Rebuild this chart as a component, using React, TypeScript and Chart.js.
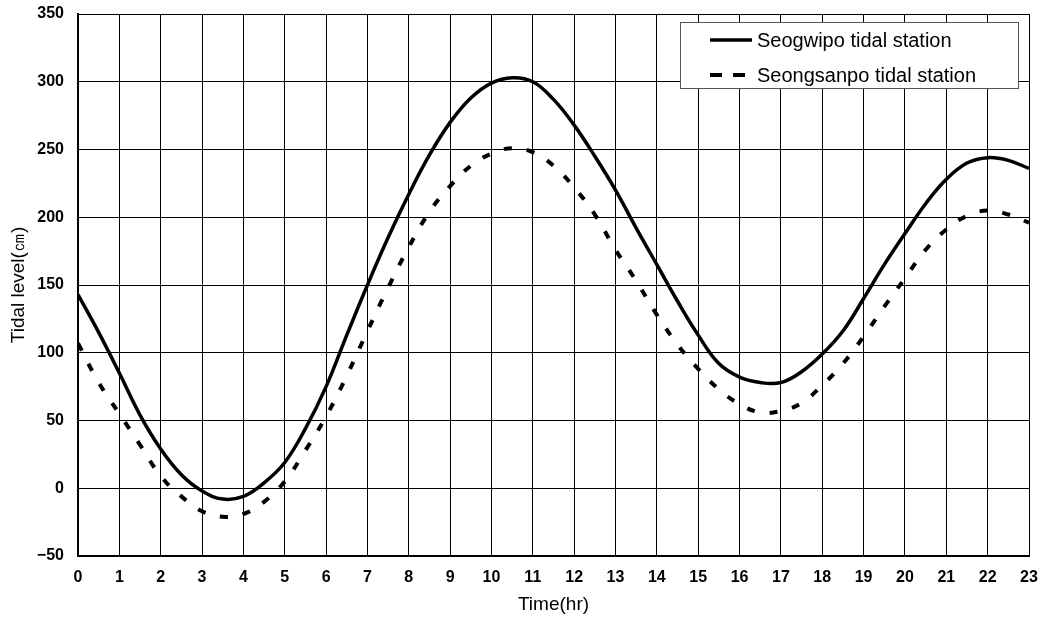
import React, { useEffect, useRef } from "react";
import { Chart, registerables } from "chart.js";

Chart.register(...registerables);

const hours = [
  0, 0.5, 1, 1.5, 2, 2.5, 3, 3.5, 4, 4.5, 5, 5.5, 6, 6.5, 7, 7.5, 8, 8.5, 9, 9.5,
  10, 10.5, 11, 11.5, 12, 12.5, 13, 13.5, 14, 14.5, 15, 15.5, 16, 16.5, 17, 17.5,
  18, 18.5, 19, 19.5, 20, 20.5, 21, 21.5, 22, 22.5, 23,
];

const seogwipo = [
  143, 115, 85, 54, 29, 10, -2, -8, -6, 4, 19, 44, 75, 113, 150, 185, 217, 246,
  270, 288, 299, 303, 300, 287, 268, 245, 220, 192, 165, 138, 113, 92, 82, 78,
  78, 86, 99, 116, 140, 165, 188, 210, 228, 240, 244, 242, 236,
];

const seongsanpo = [
  107, 78, 55, 32, 9, -6, -17, -21, -19, -10, 5, 28, 53, 83, 116, 148, 178, 204,
  223, 238, 247, 251, 248, 238, 222, 202, 176, 153, 128, 106, 88, 73, 62, 56,
  57, 63, 76, 92, 112, 134, 155, 176, 191, 201, 205, 202, 196,
];

const seriesNames = ["Seogwipo tidal station", "Seongsanpo tidal station"];
const xTitle = "Time(hr)";
const yTitle = "Tidal level(\u339D)";

const FONT = "'Liberation Sans', Arial, sans-serif";

const legendPlugin = {
  id: "boxLegend",
  afterDraw(chart: any) {
    const ctx = chart.ctx;
    const x = 680, y = 22, w = 338, h = 66;
    ctx.save();
    ctx.fillStyle = "#ffffff";
    ctx.fillRect(x, y, w, h);
    ctx.strokeStyle = "#555555";
    ctx.lineWidth = 1;
    ctx.strokeRect(x + 0.5, y + 0.5, w, h);
    ctx.strokeStyle = "#000";
    ctx.lineWidth = 3.5;
    ctx.setLineDash([]);
    ctx.beginPath();
    ctx.moveTo(710, 40);
    ctx.lineTo(752, 40);
    ctx.stroke();
    ctx.setLineDash([12, 11]);
    ctx.lineWidth = 4;
    ctx.beginPath();
    ctx.moveTo(710, 75);
    ctx.lineTo(747, 75);
    ctx.stroke();
    ctx.setLineDash([]);
    ctx.fillStyle = "#000";
    ctx.font = `20px ${FONT}`;
    ctx.textBaseline = "middle";
    ctx.fillText(seriesNames[0], 757, 41);
    ctx.fillText(seriesNames[1], 757, 76);
    ctx.restore();
  },
};

export default function App() {
  const ref = useRef<HTMLCanvasElement>(null);
  useEffect(() => {
    if (!ref.current) return;
    const chart = new Chart(ref.current, {
      type: "line",
      data: {
        datasets: [
          {
            label: seriesNames[0],
            data: hours.map((h, i) => ({ x: h, y: seogwipo[i] })),
            borderColor: "#000",
            borderWidth: 3.5,
            pointRadius: 0,
            tension: 0.4,
            fill: false,
          },
          {
            label: seriesNames[1],
            data: hours.map((h, i) => ({ x: h, y: seongsanpo[i] })),
            borderColor: "#000",
            borderWidth: 4,
            borderDash: [8, 15],
            pointRadius: 0,
            tension: 0.4,
            fill: false,
          },
        ],
      },
      options: {
        animation: false,
        responsive: false,
        maintainAspectRatio: false,
        layout: { padding: { left: 0, right: 18, top: 14, bottom: 0 } },
        plugins: { legend: { display: false }, tooltip: { enabled: false } },
        scales: {
          x: {
            type: "linear",
            min: 0,
            max: 23,
            afterFit: (s: any) => {
              s.height = 65;
              s.paddingLeft = 0;
              s.paddingRight = 0;
            },
            ticks: {
              stepSize: 1,
              color: "#000",
              font: { family: FONT, size: 16, weight: "bold" },
              padding: 12,
            },
            grid: { color: "#000", lineWidth: 1, drawTicks: false },
            border: { color: "#000", width: 2 },
            title: {
              display: true,
              text: xTitle,
              color: "#000",
              font: { family: FONT, size: 19 },
              padding: { top: 4, bottom: 5 },
            },
          },
          y: {
            min: -50,
            max: 350,
            afterFit: (s: any) => {
              s.width = 78;
              s.paddingTop = 0;
              s.paddingBottom = 0;
            },
            ticks: {
              stepSize: 50,
              color: "#000",
              font: { family: FONT, size: 16, weight: "bold" },
              padding: 14,
              callback: (v: any) => (Number(v) < 0 ? "\u2212" + Math.abs(Number(v)) : String(v)),
            },
            grid: { color: "#000", lineWidth: 1, drawTicks: false },
            border: { color: "#000", width: 2 },
            title: {
              display: true,
              text: yTitle,
              color: "#000",
              font: { family: FONT, size: 19 },
              padding: { top: 7, bottom: 4 },
            },
          },
        },
      },
      plugins: [legendPlugin],
    });
    return () => chart.destroy();
  }, []);
  return (
    <div style={{ position: "fixed", left: 0, top: 0, width: 1047, height: 621, background: "#fff" }}>
      <canvas ref={ref} width={1047} height={621} />
    </div>
  );
}
